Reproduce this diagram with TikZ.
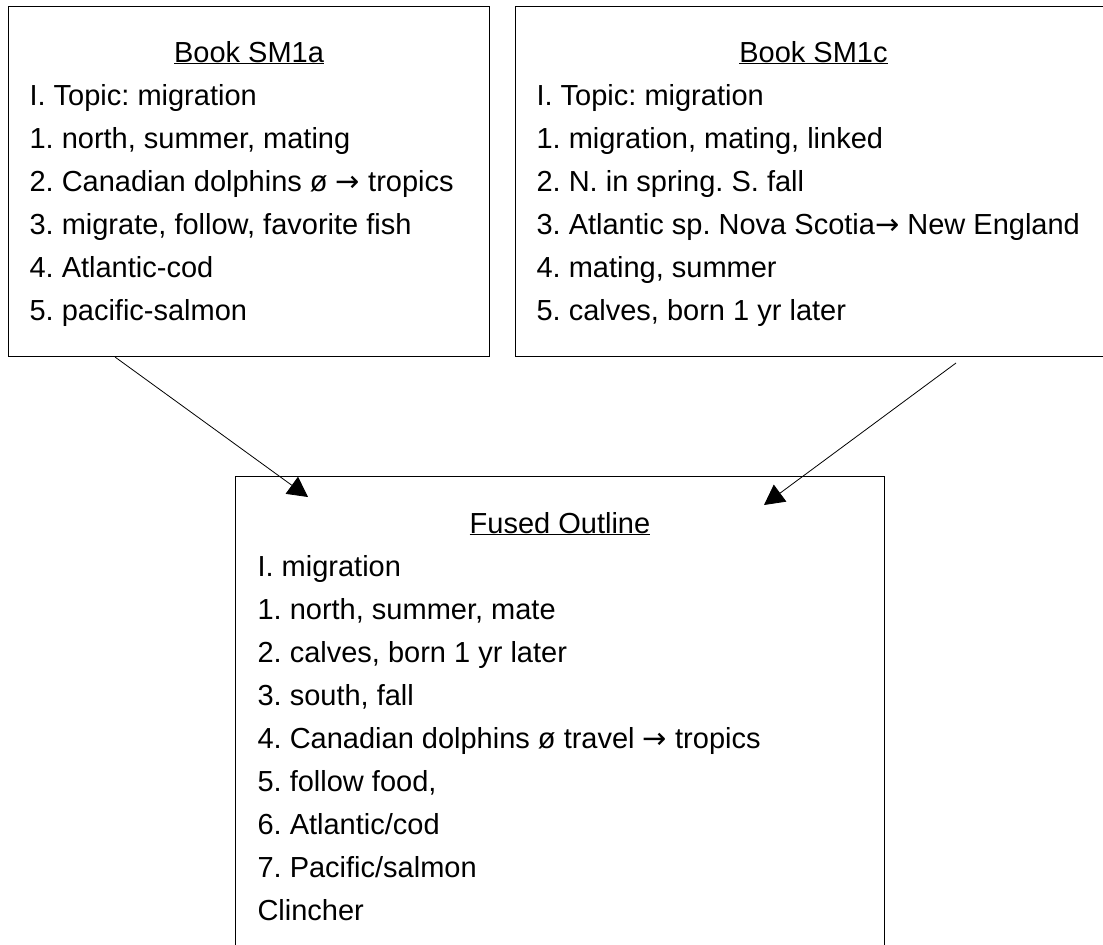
\documentclass[tikz,border=0pt]{standalone}
\usepackage{fontspec}
\setmainfont{Liberation Sans}
\newfontfamily\arrowfont{DejaVu Sans}
\newcommand{\toarrow}{{\arrowfont →}}
\frenchspacing
\usetikzlibrary{arrows.meta,calc}

\tikzset{
  outline/.style={draw, line width=1pt, inner sep=0pt, anchor=north west},
  heading/.style={anchor=base, font=\fontsize{29}{34}\selectfont},
  entry/.style={anchor=base west, font=\fontsize{29}{34}\selectfont},
  link/.style={line width=0.8pt, -{Triangle[length=20pt,width=21pt]}}
}

\begin{document}
\begin{tikzpicture}[x=1pt,y=-1pt]
    \useasboundingbox (0,0) rectangle (1103,945);

    % Book SM1a
    \node[outline, minimum width=481, minimum height=350] (sma) at (8,6) {};
    \node[heading] (sma-title) at ($(sma.north)+(0,56)$) {\underline{Book SM1a}};
    \foreach \t [count=\i from 0] in {{I. Topic: migration},
        {1. north, summer, mating},
        {2. Canadian dolphins ø \toarrow{} tropics},
        {3. migrate, follow, favorite fish},
        {4. Atlantic-cod},
        {5. pacific-salmon}}
      \node[entry] (sma-\i) at ($(sma.north west)+(18,99+43*\i)$) {\t};

    % Book SM1c
    \node[outline, minimum width=596, minimum height=350] (smc) at (515,6) {};
    \node[heading] (smc-title) at ($(smc.north)+(0,56)$) {\underline{Book SM1c}};
    \foreach \t [count=\i from 0] in {{I. Topic: migration},
        {1. migration, mating, linked},
        {2. N. in spring. S. fall},
        {3. Atlantic sp. Nova Scotia\toarrow{} New England},
        {4. mating, summer},
        {5. calves, born 1 yr later}}
      \node[entry] (smc-\i) at ($(smc.north west)+(18,99+43*\i)$) {\t};

    % Fused outline (runs off the bottom)
    \node[outline, minimum width=649, minimum height=500] (fused) at (235,476) {};
    \node[heading] (fused-title) at ($(fused.north)+(0,57)$) {\underline{Fused Outline}};
    \foreach \t [count=\i from 0] in {{I. migration},
        {1. north, summer, mate},
        {2. calves, born 1 yr later},
        {3. south, fall},
        {4. Canadian dolphins ø travel \toarrow{} tropics},
        {5. follow food,},
        {6. Atlantic/cod},
        {7. Pacific/salmon},
        {Clincher}}
      \node[entry] (fused-\i) at ($(fused.north west)+(19,100+43*\i)$) {\t};

    % Arrows into the fused outline
    \coordinate (sma-out) at ($(sma.south west)+(107,0)$);
    \coordinate (smc-out) at ($(smc.south west)+(441,6)$);
    \coordinate (fused-in1) at ($(fused.north west)+(73,21)$);
    \coordinate (fused-in2) at ($(fused.north west)+(529,29)$);
    \draw[link] (sma-out) -- (fused-in1);
    \draw[link] (smc-out) -- (fused-in2);
\end{tikzpicture}
\end{document}
